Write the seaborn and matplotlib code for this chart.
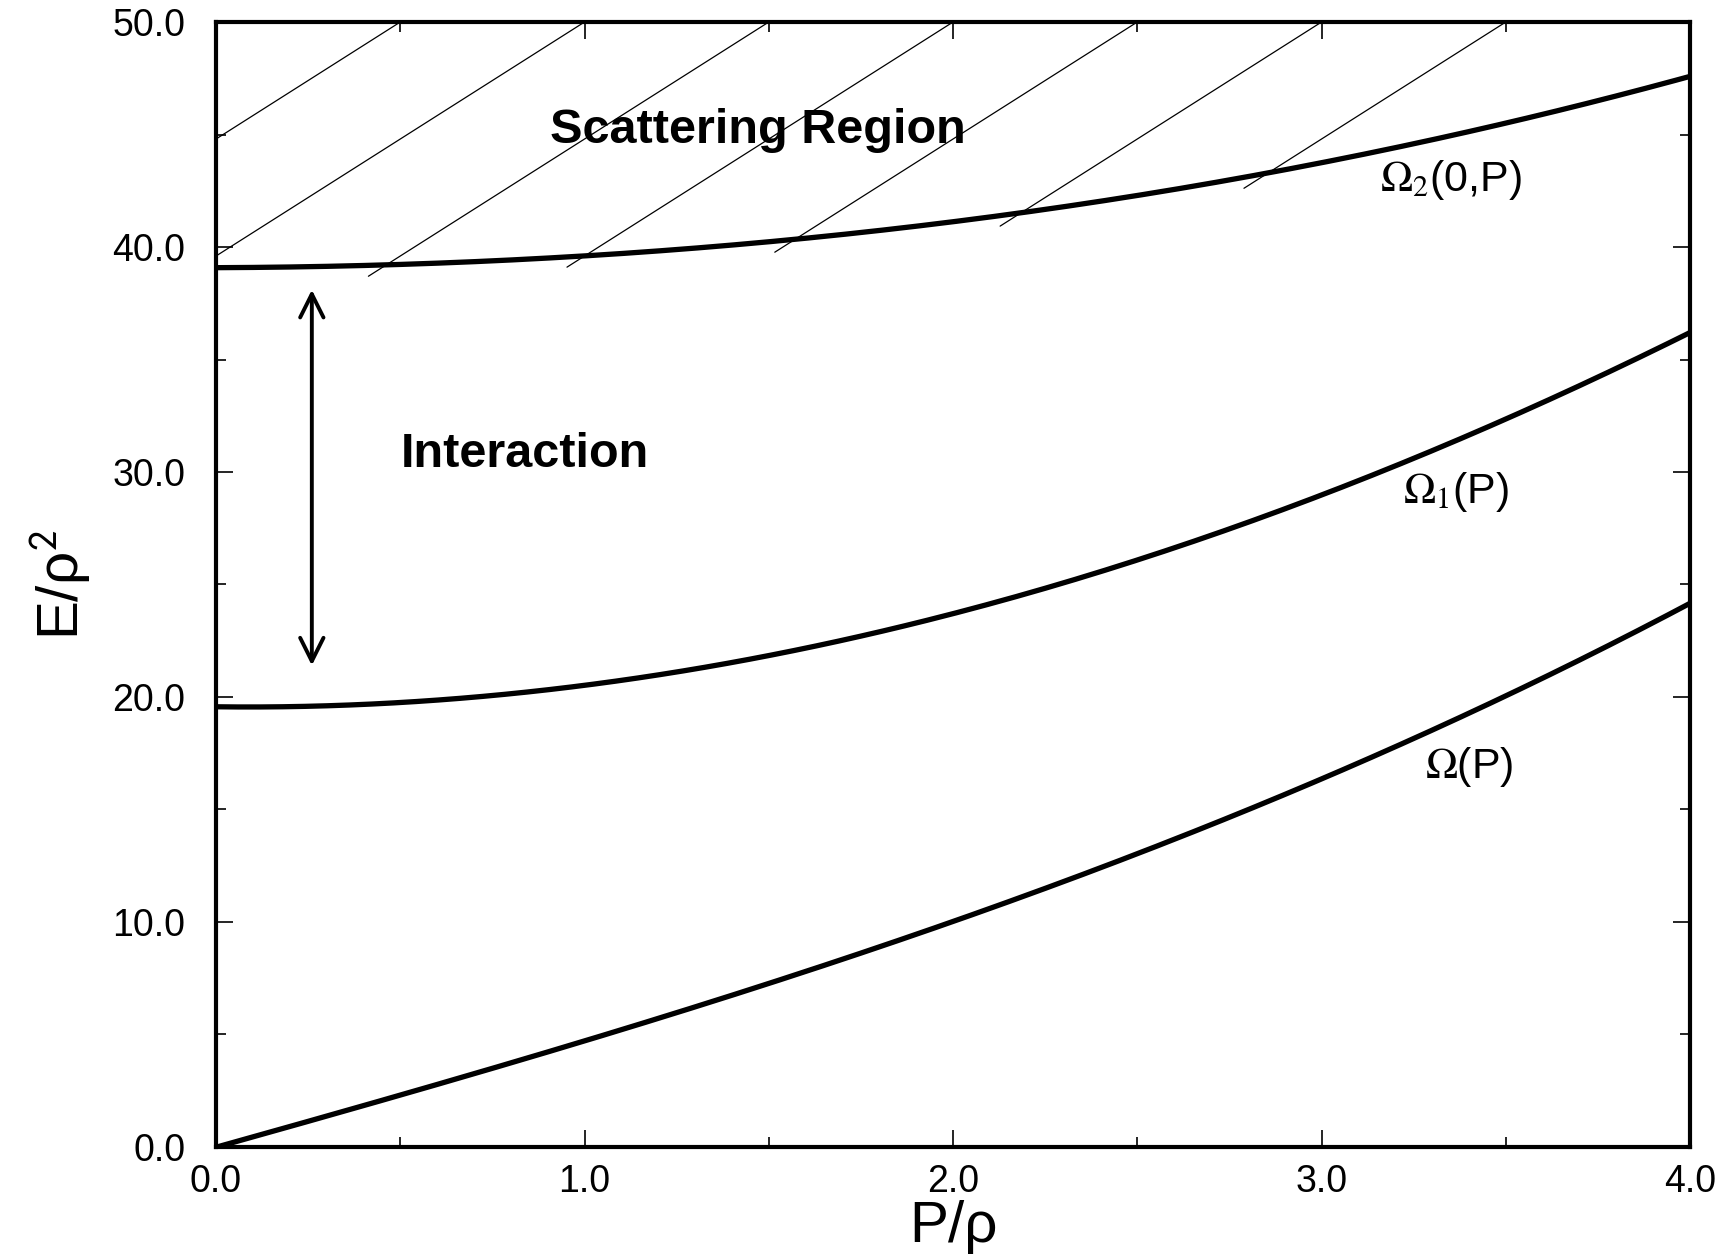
import numpy as np
import pandas as pd
import matplotlib
matplotlib.use("Agg")
import matplotlib.pyplot as plt
import seaborn as sns
from matplotlib.ticker import MultipleLocator, FormatStrFormatter

# values
p = [0.0, 0.5, 1.0, 1.5, 2.0, 2.5, 3.0, 3.5, 4.0]
omega = [0.0, 2.3, 4.7, 7.2, 10.1, 13.1, 16.3, 20.0, 24.2]
omega1 = [19.6, 19.7, 20.5, 21.8, 23.9, 26.0, 28.9, 32.4, 36.2]
omega2 = [39.1, 39.2, 39.6, 40.2, 41.2, 42.3, 43.7, 45.5, 47.6]

# hatch lines of the scattering region: where they meet the top, and their slope
hatch_top = [0.5, 1.0, 1.5, 2.0, 2.5, 3.0, 3.5]
hatch_slope = 10.4

sns.set_style("ticks")
plt.rcParams["font.family"] = ["Liberation Sans", "DejaVu Sans"]
plt.rcParams["mathtext.fontset"] = "stix"
plt.rcParams["text.color"] = "black"
plt.rcParams["axes.labelcolor"] = "black"

fig = plt.figure(figsize=(17.24, 12.59), dpi=100)
ax = fig.add_axes([0.1253, 0.089, 0.855, 0.8935])

# smooth the curves a bit for drawing
xs = np.linspace(0, 4, 200)
for vals in [omega, omega1, omega2]:
    c = np.polyfit(p, vals, 3)
    sm = pd.DataFrame({"P": xs, "E": np.polyval(c, xs)})
    sns.lineplot(data=sm, x="P", y="E", ax=ax, color="black", lw=3.8)

# hatching above Omega2
c2 = np.polyfit(p, omega2, 3)
for t in hatch_top:
    xx = np.linspace(0, t, 400)
    yy = 50 - hatch_slope * (t - xx)
    keep = (yy >= np.polyval(c2, xx) - 0.5)
    ax.plot(xx[keep], yy[keep], color="black", lw=0.9)

ax.annotate("", xy=(0.26, 38.1), xytext=(0.26, 21.4),
            arrowprops=dict(arrowstyle="<->", color="black", lw=2.8,
                            mutation_scale=42, shrinkA=0, shrinkB=0))

ax.text(1.47, 45.2, "Scattering Region", fontsize=35, fontweight="bold",
        ha="center", va="center")
ax.text(0.5, 30.8, "Interaction", fontsize=35, fontweight="bold",
        ha="left", va="center")
ax.text(3.16, 43.0, r"$\Omega_2$(0,P)", fontsize=31, ha="left", va="center")
ax.text(3.22, 29.1, r"$\Omega_1$(P)", fontsize=31, ha="left", va="center")
ax.text(3.28, 16.9, r"$\Omega$(P)", fontsize=31, ha="left", va="center")

ax.set_xlim(0, 4)
ax.set_ylim(0, 50)
ax.xaxis.set_major_locator(MultipleLocator(1))
ax.xaxis.set_minor_locator(MultipleLocator(0.5))
ax.yaxis.set_major_locator(MultipleLocator(10))
ax.yaxis.set_minor_locator(MultipleLocator(5))
ax.xaxis.set_major_formatter(FormatStrFormatter("%.1f"))
ax.yaxis.set_major_formatter(FormatStrFormatter("%.1f"))
ax.tick_params(which="both", direction="in", top=True, right=True,
               labelsize=27, width=1.2, colors="black")
ax.tick_params(axis="x", which="major", length=12, pad=12)
ax.tick_params(axis="y", which="major", length=12, pad=22)
ax.tick_params(which="minor", length=7)
for s in ax.spines.values():
    s.set_linewidth(3)
    s.set_color("black")

ax.set_xlabel("P/ρ", fontsize=42, labelpad=0)
ax.set_ylabel("E/ρ$^{\\mathsf{2}}$", fontsize=42, labelpad=14)

fig.savefig("out.png", dpi=100)
